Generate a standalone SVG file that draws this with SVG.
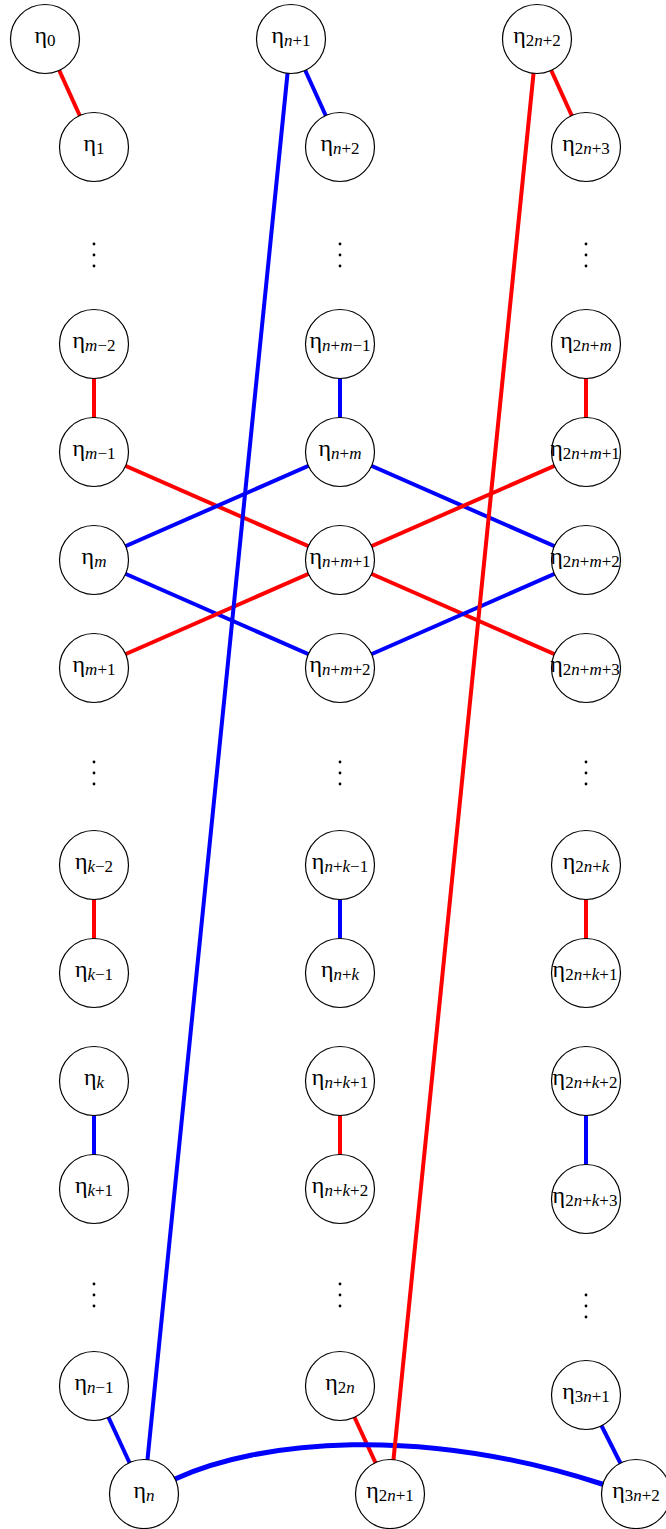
<svg xmlns="http://www.w3.org/2000/svg" width="666" height="1529" viewBox="0 0 666 1529">
<style>
.nd{fill:#fff;stroke:#000;stroke-width:1.2}
.lb{font-family:"Liberation Serif","Times New Roman",serif;font-size:24px;text-anchor:middle;fill:#000}
.s{font-size:17px}
.i{font-style:italic}
.r{stroke:#ff0000;stroke-width:4;fill:none}
.b{stroke:#0000ff;stroke-width:4;fill:none}
.dt{fill:#000}
</style>
<rect width="666" height="1529" fill="#fff"/>
<g id="connectors">
<line class="r" x1="45" y1="39" x2="94" y2="147"/>
<line class="b" x1="291" y1="39" x2="340" y2="147"/>
<line class="r" x1="537" y1="39" x2="586" y2="147"/>
<line class="r" x1="94" y1="344" x2="94" y2="452"/>
<line class="b" x1="340" y1="344" x2="340" y2="452"/>
<line class="r" x1="586" y1="344" x2="586" y2="452"/>
<line class="r" x1="94" y1="452" x2="340" y2="560"/>
<line class="b" x1="94" y1="560" x2="340" y2="452"/>
<line class="b" x1="94" y1="560" x2="340" y2="668"/>
<line class="r" x1="94" y1="668" x2="340" y2="560"/>
<line class="b" x1="340" y1="452" x2="586" y2="560"/>
<line class="r" x1="340" y1="560" x2="586" y2="452"/>
<line class="r" x1="340" y1="560" x2="586" y2="668"/>
<line class="b" x1="340" y1="668" x2="586" y2="560"/>
<line class="r" x1="94" y1="865" x2="94" y2="973"/>
<line class="b" x1="340" y1="865" x2="340" y2="973"/>
<line class="r" x1="586" y1="865" x2="586" y2="973"/>
<line class="b" x1="94" y1="1081" x2="94" y2="1189"/>
<line class="r" x1="340" y1="1081" x2="340" y2="1189"/>
<line class="b" x1="586" y1="1081" x2="586" y2="1199"/>
<line class="b" x1="94" y1="1386" x2="144" y2="1494"/>
<line class="r" x1="340" y1="1386" x2="390" y2="1494"/>
<line class="b" x1="586" y1="1395" x2="636" y2="1494"/>
<path class="b" style="stroke-width:5" d="M 160 1486 L 175 1479 C 260 1440 420 1425 602 1484 L 620 1490"/>
<line class="b" x1="291" y1="39" x2="144" y2="1494"/>
<line class="r" x1="537" y1="39" x2="390" y2="1494"/>
</g>
<g id="dots" class="dt">
<circle cx="94" cy="244" r="1.4"/><circle cx="94" cy="255" r="1.4"/><circle cx="94" cy="266" r="1.4"/>
<circle cx="340" cy="244" r="1.4"/><circle cx="340" cy="255" r="1.4"/><circle cx="340" cy="266" r="1.4"/>
<circle cx="586" cy="244" r="1.4"/><circle cx="586" cy="255" r="1.4"/><circle cx="586" cy="266" r="1.4"/>
<circle cx="94" cy="762" r="1.4"/><circle cx="94" cy="773" r="1.4"/><circle cx="94" cy="784" r="1.4"/>
<circle cx="340" cy="762" r="1.4"/><circle cx="340" cy="773" r="1.4"/><circle cx="340" cy="784" r="1.4"/>
<circle cx="586" cy="762" r="1.4"/><circle cx="586" cy="773" r="1.4"/><circle cx="586" cy="784" r="1.4"/>
<circle cx="94" cy="1284" r="1.4"/><circle cx="94" cy="1295" r="1.4"/><circle cx="94" cy="1306" r="1.4"/>
<circle cx="340" cy="1284" r="1.4"/><circle cx="340" cy="1295" r="1.4"/><circle cx="340" cy="1306" r="1.4"/>
<circle cx="586" cy="1295" r="1.4"/><circle cx="586" cy="1306" r="1.4"/><circle cx="586" cy="1317" r="1.4"/>
</g>
<g id="eta0"><circle class="nd" cx="45" cy="39" r="34.5"/><text class="lb" x="45" y="43">η<tspan class="s" dy="3">0</tspan></text></g>
<g id="eta1"><circle class="nd" cx="94" cy="147" r="34.5"/><text class="lb" x="94" y="151">η<tspan class="s" dy="3">1</tspan></text></g>
<g id="eta-m-2"><circle class="nd" cx="94" cy="344" r="34.5"/><text class="lb" x="94" y="348">η<tspan class="s" dy="3"><tspan class="i">m</tspan>−2</tspan></text></g>
<g id="eta-m-1"><circle class="nd" cx="94" cy="452" r="34.5"/><text class="lb" x="94" y="456">η<tspan class="s" dy="3"><tspan class="i">m</tspan>−1</tspan></text></g>
<g id="eta-m"><circle class="nd" cx="94" cy="560" r="34.5"/><text class="lb" x="94" y="564">η<tspan class="s i" dy="3">m</tspan></text></g>
<g id="eta-m+1"><circle class="nd" cx="94" cy="668" r="34.5"/><text class="lb" x="94" y="672">η<tspan class="s" dy="3"><tspan class="i">m</tspan>+1</tspan></text></g>
<g id="eta-k-2"><circle class="nd" cx="94" cy="865" r="34.5"/><text class="lb" x="94" y="869">η<tspan class="s" dy="3"><tspan class="i">k</tspan>−2</tspan></text></g>
<g id="eta-k-1"><circle class="nd" cx="94" cy="973" r="34.5"/><text class="lb" x="94" y="977">η<tspan class="s" dy="3"><tspan class="i">k</tspan>−1</tspan></text></g>
<g id="eta-k"><circle class="nd" cx="94" cy="1081" r="34.5"/><text class="lb" x="94" y="1085">η<tspan class="s i" dy="3">k</tspan></text></g>
<g id="eta-k+1"><circle class="nd" cx="94" cy="1189" r="34.5"/><text class="lb" x="94" y="1193">η<tspan class="s" dy="3"><tspan class="i">k</tspan>+1</tspan></text></g>
<g id="eta-n-1"><circle class="nd" cx="94" cy="1386" r="34.5"/><text class="lb" x="94" y="1390">η<tspan class="s" dy="3"><tspan class="i">n</tspan>−1</tspan></text></g>
<g id="eta-n"><circle class="nd" cx="144" cy="1494" r="34.5"/><text class="lb" x="144" y="1498">η<tspan class="s i" dy="3">n</tspan></text></g>
<g id="eta-n+1"><circle class="nd" cx="291" cy="39" r="34.5"/><text class="lb" x="291" y="43">η<tspan class="s" dy="3"><tspan class="i">n</tspan>+1</tspan></text></g>
<g id="eta-n+2"><circle class="nd" cx="340" cy="147" r="34.5"/><text class="lb" x="340" y="151">η<tspan class="s" dy="3"><tspan class="i">n</tspan>+2</tspan></text></g>
<g id="eta-n+m-1"><circle class="nd" cx="340" cy="344" r="34.5"/><text class="lb" x="340" y="348">η<tspan class="s" dy="3"><tspan class="i">n</tspan>+<tspan class="i">m</tspan>−1</tspan></text></g>
<g id="eta-n+m"><circle class="nd" cx="340" cy="452" r="34.5"/><text class="lb" x="340" y="456">η<tspan class="s" dy="3"><tspan class="i">n</tspan>+<tspan class="i">m</tspan></tspan></text></g>
<g id="eta-n+m+1"><circle class="nd" cx="340" cy="560" r="34.5"/><text class="lb" x="340" y="564">η<tspan class="s" dy="3"><tspan class="i">n</tspan>+<tspan class="i">m</tspan>+1</tspan></text></g>
<g id="eta-n+m+2"><circle class="nd" cx="340" cy="668" r="34.5"/><text class="lb" x="340" y="672">η<tspan class="s" dy="3"><tspan class="i">n</tspan>+<tspan class="i">m</tspan>+2</tspan></text></g>
<g id="eta-n+k-1"><circle class="nd" cx="340" cy="865" r="34.5"/><text class="lb" x="340" y="869">η<tspan class="s" dy="3"><tspan class="i">n</tspan>+<tspan class="i">k</tspan>−1</tspan></text></g>
<g id="eta-n+k"><circle class="nd" cx="340" cy="973" r="34.5"/><text class="lb" x="340" y="977">η<tspan class="s" dy="3"><tspan class="i">n</tspan>+<tspan class="i">k</tspan></tspan></text></g>
<g id="eta-n+k+1"><circle class="nd" cx="340" cy="1081" r="34.5"/><text class="lb" x="340" y="1085">η<tspan class="s" dy="3"><tspan class="i">n</tspan>+<tspan class="i">k</tspan>+1</tspan></text></g>
<g id="eta-n+k+2"><circle class="nd" cx="340" cy="1189" r="34.5"/><text class="lb" x="340" y="1193">η<tspan class="s" dy="3"><tspan class="i">n</tspan>+<tspan class="i">k</tspan>+2</tspan></text></g>
<g id="eta-2n"><circle class="nd" cx="340" cy="1386" r="34.5"/><text class="lb" x="340" y="1390">η<tspan class="s" dy="3">2<tspan class="i">n</tspan></tspan></text></g>
<g id="eta-2n+1"><circle class="nd" cx="390" cy="1494" r="34.5"/><text class="lb" x="390" y="1498">η<tspan class="s" dy="3">2<tspan class="i">n</tspan>+1</tspan></text></g>
<g id="eta-2n+2"><circle class="nd" cx="537" cy="39" r="34.5"/><text class="lb" x="537" y="43">η<tspan class="s" dy="3">2<tspan class="i">n</tspan>+2</tspan></text></g>
<g id="eta-2n+3"><circle class="nd" cx="586" cy="147" r="34.5"/><text class="lb" x="586" y="151">η<tspan class="s" dy="3">2<tspan class="i">n</tspan>+3</tspan></text></g>
<g id="eta-2n+m"><circle class="nd" cx="586" cy="344" r="34.5"/><text class="lb" x="586" y="348">η<tspan class="s" dy="3">2<tspan class="i">n</tspan>+<tspan class="i">m</tspan></tspan></text></g>
<g id="eta-2n+m+1"><circle class="nd" cx="586" cy="452" r="34.5"/><text class="lb" x="585" y="456">η<tspan class="s" dy="3">2<tspan class="i">n</tspan>+<tspan class="i">m</tspan>+1</tspan></text></g>
<g id="eta-2n+m+2"><circle class="nd" cx="586" cy="560" r="34.5"/><text class="lb" x="585" y="564">η<tspan class="s" dy="3">2<tspan class="i">n</tspan>+<tspan class="i">m</tspan>+2</tspan></text></g>
<g id="eta-2n+m+3"><circle class="nd" cx="586" cy="668" r="34.5"/><text class="lb" x="585" y="672">η<tspan class="s" dy="3">2<tspan class="i">n</tspan>+<tspan class="i">m</tspan>+3</tspan></text></g>
<g id="eta-2n+k"><circle class="nd" cx="586" cy="865" r="34.5"/><text class="lb" x="586" y="869">η<tspan class="s" dy="3">2<tspan class="i">n</tspan>+<tspan class="i">k</tspan></tspan></text></g>
<g id="eta-2n+k+1"><circle class="nd" cx="586" cy="973" r="34.5"/><text class="lb" x="585" y="977">η<tspan class="s" dy="3">2<tspan class="i">n</tspan>+<tspan class="i">k</tspan>+1</tspan></text></g>
<g id="eta-2n+k+2"><circle class="nd" cx="586" cy="1081" r="34.5"/><text class="lb" x="585" y="1085">η<tspan class="s" dy="3">2<tspan class="i">n</tspan>+<tspan class="i">k</tspan>+2</tspan></text></g>
<g id="eta-2n+k+3"><circle class="nd" cx="586" cy="1199" r="34.5"/><text class="lb" x="585" y="1203">η<tspan class="s" dy="3">2<tspan class="i">n</tspan>+<tspan class="i">k</tspan>+3</tspan></text></g>
<g id="eta-3n+1"><circle class="nd" cx="586" cy="1395" r="34.5"/><text class="lb" x="586" y="1399">η<tspan class="s" dy="3">3<tspan class="i">n</tspan>+1</tspan></text></g>
<g id="eta-3n+2"><circle class="nd" cx="636" cy="1494" r="34.5"/><text class="lb" x="636" y="1498">η<tspan class="s" dy="3">3<tspan class="i">n</tspan>+2</tspan></text></g>
</svg>
